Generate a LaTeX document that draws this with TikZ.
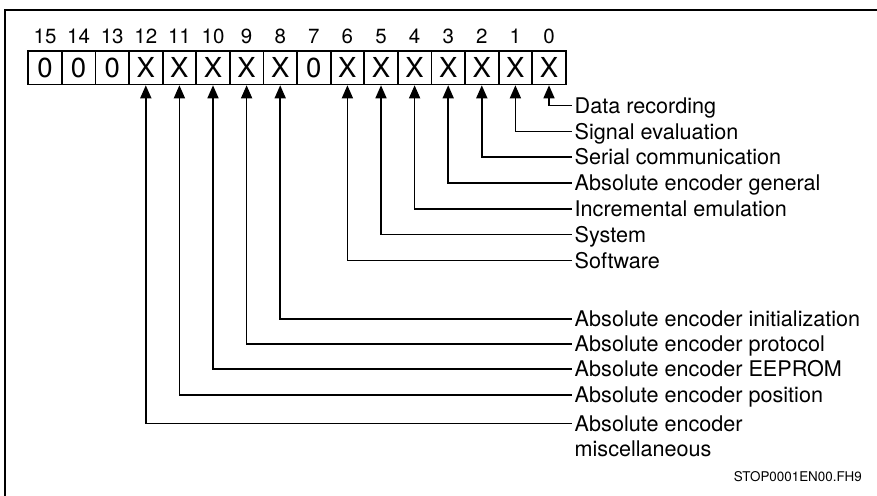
\documentclass[tikz,border=0pt]{standalone}
\usepackage{fontspec}
\setmainfont{TeX Gyre Heros}
\usetikzlibrary{arrows.meta}
\begin{document}
\begin{tikzpicture}[x=1pt,y=-1pt,
  bitbox/.style={draw,line width=1.8pt,minimum width=33.6pt,minimum height=33pt,
    inner sep=0pt,anchor=north west,font=\fontsize{27.5}{29}\selectfont},
  bitnum/.style={inner sep=0pt,font=\fontsize{20.5}{23}\selectfont},
  lbl/.style={anchor=west,inner xsep=2.5pt,inner ysep=0pt,text height=15.5pt,
    text depth=0pt,font=\fontsize{21.6}{25}\selectfont},
  feed/.style={line width=1.6pt,{Triangle[length=13pt,width=11pt]}-}]
\clip (0,0) rectangle (877,495);
\useasboundingbox (0,0) rectangle (877,495);
% outer frame, cut by the page edge on the right and bottom
\draw[line width=2.2pt] (5,510) -- (5,10) -- (890,10);

% the 16 bits of the register, bit 15 on the left
\foreach \b/\v in {15/0,14/0,13/0,12/X,11/X,10/X,9/X,8/X,7/0,6/X,5/X,4/X,3/X,2/X,1/X,0/X} {
  \node[bitbox] (b\b) at ({27.3+(15-\b)*33.6},50.5) {\v};
  \node[bitnum] (n\b) at ([yshift=13.8pt]b\b.north) {\b};
}

% meaning of each bit
\node[lbl] (l0)  at (572,105.5) {Data recording};
\node[lbl] (l1)  at (572,131.3) {Signal evaluation};
\node[lbl] (l2)  at (572,157.1) {Serial communication};
\node[lbl] (l3)  at (572,182.9) {Absolute encoder general};
\node[lbl] (l4)  at (572,208.7) {Incremental emulation};
\node[lbl] (l5)  at (572,234.5) {System};
\node[lbl] (l6)  at (572,260.3) {Software};
\node[lbl] (l8)  at (572,318.8) {Absolute encoder initialization};
\node[lbl] (l9)  at (572,343.8) {Absolute encoder protocol};
\node[lbl] (l10) at (572,368.8) {Absolute encoder EEPROM};
\node[lbl] (l11) at (572,394.7) {Absolute encoder position};
\node[lbl] (l12) at (572,423.3) {Absolute encoder};
\node[lbl] (l12b) at (572,449) {miscellaneous};

\foreach \b in {0,1,2,3,4,5,6,8,9,10,11,12}
  \draw[feed] (b\b.south) |- (l\b.west);

\node[anchor=east,inner sep=0pt,font=\fontsize{13.4}{15}\selectfont] (code) at (862,477) {STOP0001EN00.FH9};
\end{tikzpicture}
\end{document}
